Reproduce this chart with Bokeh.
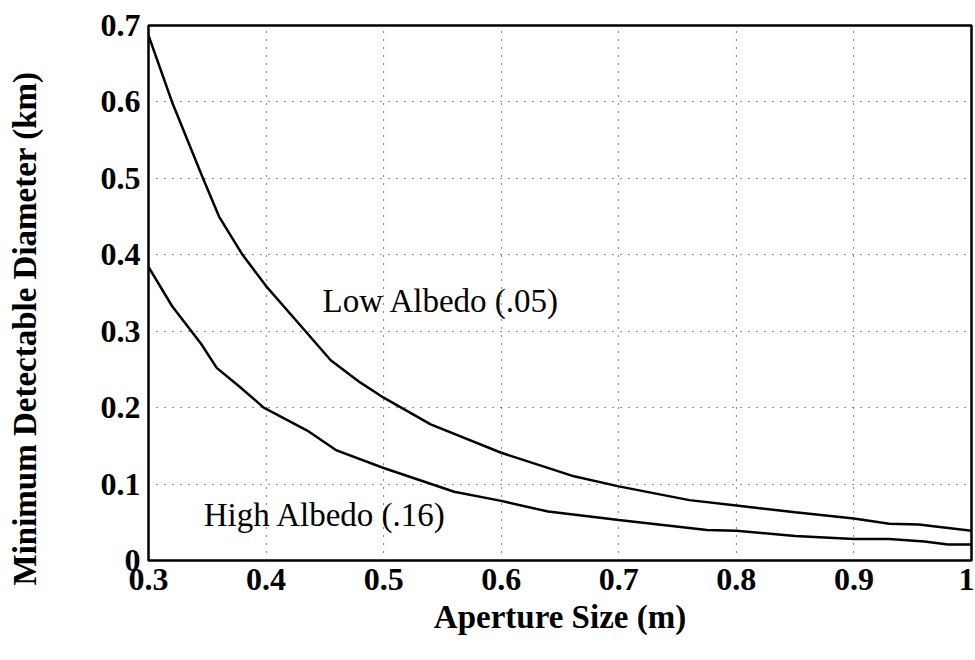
from bokeh.plotting import figure
from bokeh.models import Range1d, FixedTicker, Label, Title
from bokeh.embed import file_html
from bokeh.resources import INLINE

# Data
aperture_low = [0.30, 0.32, 0.345, 0.36, 0.38, 0.40, 0.425, 0.455, 0.48, 0.50, 0.54,
                0.60, 0.66, 0.70, 0.76, 0.80, 0.85, 0.90, 0.93, 0.955, 1.00]
diam_low = [0.687, 0.600, 0.505, 0.450, 0.400, 0.359, 0.315, 0.262, 0.233, 0.213, 0.178,
            0.141, 0.111, 0.097, 0.079, 0.072, 0.063, 0.055, 0.048, 0.047, 0.039]

aperture_high = [0.30, 0.32, 0.345, 0.358, 0.377, 0.398, 0.435, 0.46, 0.50, 0.56, 0.60,
                 0.64, 0.70, 0.775, 0.80, 0.85, 0.90, 0.93, 0.96, 0.98, 1.00]
diam_high = [0.384, 0.333, 0.283, 0.252, 0.228, 0.200, 0.170, 0.144, 0.121, 0.090, 0.078,
             0.064, 0.053, 0.040, 0.039, 0.032, 0.028, 0.028, 0.025, 0.021, 0.021]

x_ticks = [0.3, 0.4, 0.5, 0.6, 0.7, 0.8, 0.9, 1.0]
x_tick_labels = ["0.3", "0.4", "0.5", "0.6", "0.7", "0.8", "0.9", "1"]
y_ticks = [0.0, 0.1, 0.2, 0.3, 0.4, 0.5, 0.6, 0.7]
y_tick_labels = ["0", "0.1", "0.2", "0.3", "0.4", "0.5", "0.6", "0.7"]

x_title = "Aperture Size (m)"
y_title = "Minimum Detectable Diameter (km)"
label_low = "Low Albedo (.05)"
label_high = "High Albedo (.16)"

SERIF = "Liberation Serif"

p = figure(width=974, height=659, output_backend="svg", toolbar_location=None,
           x_range=Range1d(0.3, 1.0), y_range=Range1d(0.0, 0.7),
           min_border_left=0, min_border_right=3, min_border_top=25, min_border_bottom=99)

p.background_fill_color = "white"
p.border_fill_color = "white"
p.outline_line_color = "black"
p.outline_line_width = 2.5
p.outline_line_alpha = 1.0

p.line(aperture_low, diam_low, line_color="black", line_width=2.5)
p.line(aperture_high, diam_high, line_color="black", line_width=2.5)

p.xaxis.ticker = FixedTicker(ticks=x_ticks)
p.yaxis.ticker = FixedTicker(ticks=y_ticks)
p.xaxis.major_label_overrides = dict(zip(x_ticks, x_tick_labels))
p.yaxis.major_label_overrides = dict(zip(y_ticks, y_tick_labels))

for ax in (p.xaxis, p.yaxis):
    ax.axis_line_color = None
    ax.major_tick_line_color = None
    ax.minor_tick_line_color = None
    ax.major_tick_out = 0
    ax.major_tick_in = 0
    ax.minor_tick_out = 0
    ax.minor_tick_in = 0
    ax.major_label_text_font = SERIF
    ax.major_label_text_font_style = "bold"
    ax.major_label_text_font_size = "32px"
    ax.major_label_text_color = "black"
    ax.axis_label_text_font = SERIF
    ax.axis_label_text_font_style = "bold"
    ax.axis_label_text_font_size = "33px"
    ax.axis_label_text_color = "black"

p.xaxis.axis_label = x_title
p.xaxis.major_label_standoff = 8
p.yaxis.major_label_standoff = 8
p.xaxis.axis_label_standoff = 6

# spacer between the y tick labels and the y title
p.add_layout(Title(text=" ", text_font_size="1px", standoff=46), "left")
# y-axis title, a little below the frame's centre as in the reference
p.add_layout(Title(text=y_title, text_font=SERIF, text_font_style="bold",
                   text_font_size="33px", text_color="black",
                   align="left", offset=-25, vertical_align="middle", standoff=10),
             "left")

p.xgrid.ticker = FixedTicker(ticks=x_ticks)
p.ygrid.ticker = FixedTicker(ticks=y_ticks)
for g in (p.xgrid, p.ygrid):
    g.grid_line_color = "#222222"
    g.grid_line_width = 1.2
    g.grid_line_dash = "1 7"

p.add_layout(Label(x=0.448, y=0.340, text=label_low, text_font=SERIF,
                   text_font_size="33px", text_color="black",
                   text_align="left", text_baseline="alphabetic"))
p.add_layout(Label(x=0.347, y=0.059, text=label_high, text_font=SERIF,
                   text_font_size="33px", text_color="black",
                   text_align="left", text_baseline="alphabetic"))

open("out.html", "w").write(file_html(p, INLINE))
